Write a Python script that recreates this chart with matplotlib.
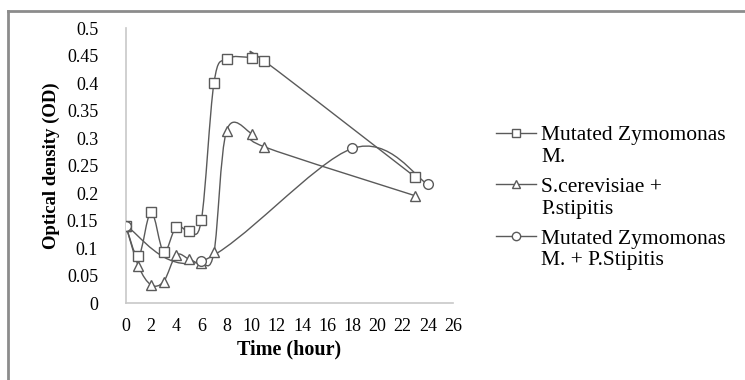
import matplotlib
matplotlib.use("Agg")
import matplotlib.pyplot as plt
from matplotlib.path import Path
from matplotlib.patches import PathPatch
from matplotlib.lines import Line2D
from matplotlib.legend_handler import HandlerLine2D
import numpy as np

plt.rcParams['font.family'] = ['Liberation Serif', 'DejaVu Serif']

# data
zymo_t = [0, 1, 2, 3, 4, 5, 6, 7, 8, 10, 11, 23]
zymo_od = [0.140, 0.085, 0.166, 0.093, 0.139, 0.131, 0.151, 0.400, 0.444, 0.446, 0.440, 0.229]

scer_t = [0, 1, 2, 3, 4, 5, 6, 7, 8, 10, 11, 23]
scer_od = [0.140, 0.067, 0.033, 0.039, 0.087, 0.080, 0.072, 0.092, 0.313, 0.308, 0.284, 0.195]

mix_t = [0, 6, 18, 24]
mix_od = [0.140, 0.076, 0.281, 0.216]

labels = ["Mutated Zymomonas\nM.", "S.cerevisiae +\nP.stipitis", "Mutated Zymomonas\nM. + P.Stipitis"]
markers = ["s", "^", "o"]

line_col = "#5a5a5a"


def smooth_path(x, y):
    # excel style smoothed line: catmull-rom segments as cubic beziers
    p = np.column_stack([x, y]).astype(float)
    n = len(p)
    verts = [p[0]]
    codes = [Path.MOVETO]
    for i in range(n - 1):
        p0 = p[i - 1] if i > 0 else p[i]
        p3 = p[i + 2] if i + 2 < n else p[i + 1]
        c1 = p[i] + (p[i + 1] - p0) / 6.0
        c2 = p[i + 1] - (p3 - p[i]) / 6.0
        verts += [c1, c2, p[i + 1]]
        codes += [Path.CURVE4] * 3
    return Path(verts, codes)


class FirstLineHandler(HandlerLine2D):
    # put the legend key level with the first line of a two-line label
    def create_artists(self, legend, orig_handle, xdescent, ydescent, width, height, fontsize, trans):
        return super().create_artists(legend, orig_handle, xdescent, ydescent - 1.25 * fontsize,
                                      width, height, fontsize, trans)


fig = plt.figure(figsize=(7.45, 3.8), dpi=100)
ax = fig.add_axes([0.169, 0.2026, 0.439, 0.7237])

series = [(zymo_t, zymo_od), (scer_t, scer_od), (mix_t, mix_od)]
handles = []
for (t, od), m, lab in zip(series, markers, labels):
    ax.add_patch(PathPatch(smooth_path(t, od), facecolor="none", edgecolor=line_col, lw=1.0, zorder=2))
    ms = 7 if m != "^" else 7.5
    ax.plot(t, od, ls="none", marker=m, ms=ms, mfc="white", mec=line_col, mew=1.0, zorder=3)
    handles.append(Line2D([], [], color=line_col, lw=1.0, marker=m, ms=6, mfc="white", mec=line_col, mew=1.0))

ax.set_xlim(0, 26)
ax.set_ylim(0, 0.5)
ax.set_xticks(range(0, 27, 2))
ax.set_yticks(np.arange(0, 0.501, 0.05))
ax.set_yticklabels(["0", "0.05", "0.1", "0.15", "0.2", "0.25", "0.3", "0.35", "0.4", "0.45", "0.5"])
ax.tick_params(length=0, labelsize=13, colors="black")
ax.tick_params(axis="y", pad=20)
ax.tick_params(axis="x", pad=11)
for s in ["top", "right"]:
    ax.spines[s].set_visible(False)
for s in ["left", "bottom"]:
    ax.spines[s].set_color("#c8c8c8")
    ax.spines[s].set_linewidth(1.2)

ax.set_xlabel("Time (hour)", fontsize=14.5, fontweight="bold", labelpad=3)
ax.set_ylabel("Optical density (OD)", fontsize=13.5, fontweight="bold", labelpad=5)

leg = fig.legend(handles, labels, loc="upper left", bbox_to_anchor=(0.654, 0.69),
                 frameon=False, fontsize=15.5, handlelength=1.85, handletextpad=0.25,
                 labelspacing=0.5, borderaxespad=0,
                 handler_map={Line2D: FirstLineHandler()})
for txt in leg.get_texts():
    txt.set_linespacing(1.2)

# outer frame of the pasted chart (left and top edges)
fig.add_artist(Line2D([0.011, 0.011], [0.0, 0.971], color="#8c8c8c", lw=2, transform=fig.transFigure))
fig.add_artist(Line2D([0.011, 1.0], [0.971, 0.971], color="#8c8c8c", lw=2, transform=fig.transFigure))

fig.savefig("out.png", dpi=100)
